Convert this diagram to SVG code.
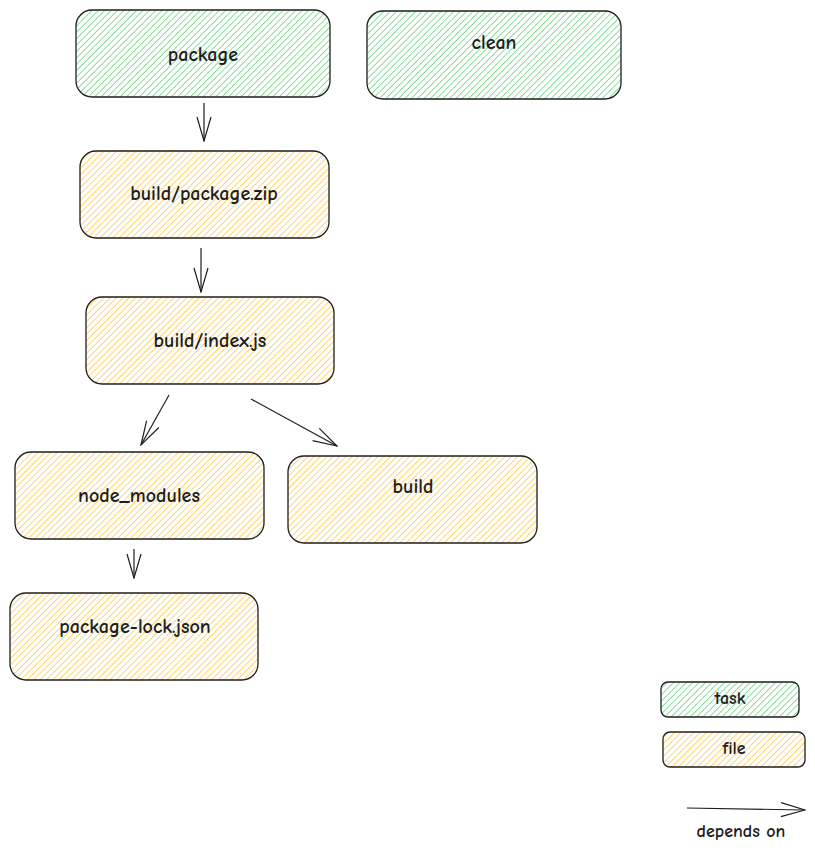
<svg xmlns="http://www.w3.org/2000/svg" width="815" height="855" viewBox="0 0 815 855">
<defs>
<pattern id="hg" width="4.5" height="4.5" patternUnits="userSpaceOnUse" patternTransform="rotate(45)">
<rect width="4.5" height="4.5" fill="#ffffff"/>
<line x1="0" y1="0" x2="0" y2="4.5" stroke="#5fcf74" stroke-width="1.4"/>
</pattern>
<pattern id="hy" width="4.5" height="4.5" patternUnits="userSpaceOnUse" patternTransform="rotate(45)">
<rect width="4.5" height="4.5" fill="#ffffff"/>
<line x1="0" y1="0" x2="0" y2="4.5" stroke="#ffc43a" stroke-width="1.4"/>
</pattern>
<marker id="ah" viewBox="0 0 26 20" refX="25" refY="10" markerWidth="26" markerHeight="20" markerUnits="userSpaceOnUse" orient="auto">
<path d="M1,3 L25,10 L1,17" fill="none" stroke="#1e1e1e" stroke-width="1.2"/>
</marker>
</defs>
<style>
.task{fill:url(#hg);stroke:#1e1e1e;stroke-width:1.3}
.file{fill:url(#hy);stroke:#1e1e1e;stroke-width:1.3}
text{font-family:"Comic Neue","Open Sans","Liberation Sans",sans-serif;font-size:20px;font-weight:bold;fill:#1e1e1e;text-anchor:middle;dominant-baseline:central}
.sm{font-size:18px}
.c{fill:none;stroke:#1e1e1e;stroke-width:1.2;marker-end:url(#ah)}
</style>
<rect width="815" height="855" fill="#ffffff"/>
<g id="package"><rect class="task" x="76" y="10" width="254" height="87" rx="16"/><text x="203" y="54">package</text></g>
<g id="clean"><rect class="task" x="367" y="11" width="254" height="88" rx="16"/><text x="494" y="42">clean</text></g>
<g id="build-package-zip"><rect class="file" x="80" y="151" width="249" height="87" rx="16"/><text x="204" y="193">build/package.zip</text></g>
<g id="build-index-js"><rect class="file" x="86" y="297" width="248" height="87" rx="16"/><text x="210" y="340">build/index.js</text></g>
<g id="node-modules"><rect class="file" x="15" y="452" width="249" height="87" rx="16"/><text x="139" y="495">node_modules</text></g>
<g id="build"><rect class="file" x="288" y="456" width="249" height="87" rx="16"/><text x="413" y="486">build</text></g>
<g id="package-lock-json"><rect class="file" x="10" y="593" width="248" height="87" rx="16"/><text x="135" y="626">package-lock.json</text></g>
<g id="legend-task"><rect class="task" x="661" y="682" width="138" height="35" rx="7"/><text class="sm" x="730" y="698">task</text></g>
<g id="legend-file"><rect class="file" x="663" y="732" width="142" height="35" rx="7"/><text class="sm" x="734" y="748">file</text></g>
<g id="connectors">
<line class="c" x1="204" y1="103" x2="204" y2="141"/>
<line class="c" x1="201" y1="248" x2="201" y2="292"/>
<line class="c" x1="169" y1="395" x2="141" y2="445"/>
<line class="c" x1="251" y1="399" x2="337" y2="446"/>
<line class="c" x1="134" y1="549" x2="134" y2="578"/>
<line class="c" x1="687" y1="808" x2="805" y2="810"/>
</g>
<g id="legend-arrow"><text class="sm" x="741" y="831">depends on</text></g>
</svg>
